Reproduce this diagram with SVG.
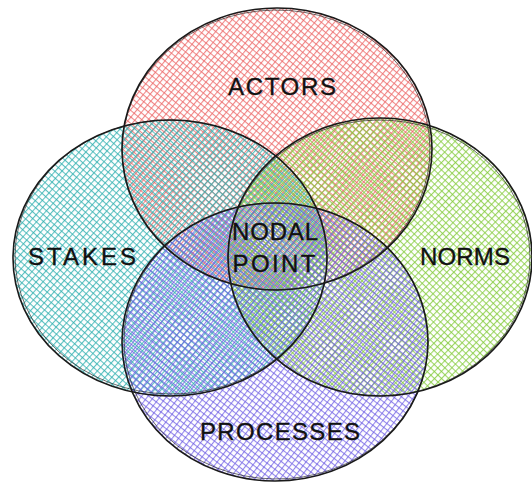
<svg xmlns="http://www.w3.org/2000/svg" width="532" height="486" viewBox="0 0 532 486">
  <style>
    .outline { fill: none; stroke: #1a1a1a; stroke-width: 1.6; stroke-linecap: round; }
    .outline2 { fill: none; stroke: #1a1a1a; stroke-width: 0.9; opacity: 0.7; }
    .label { font-family: "Liberation Sans", "DejaVu Sans", sans-serif; font-size: 24px; fill: #111; stroke: #111; stroke-width: 0.35; text-anchor: middle; }
  </style>
  <defs>
    <!-- cross-hatch fills, one per set -->
    <pattern id="hatch-red" patternUnits="userSpaceOnUse" width="5" height="5" patternTransform="rotate(40)">
      <line x1="0" y1="0" x2="5" y2="0" stroke="#ec6a6a" stroke-width="2.2" stroke-opacity="0.8"/>
      <line x1="0" y1="0" x2="0" y2="5" stroke="#ec6a6a" stroke-width="2.2" stroke-opacity="0.8"/>
    </pattern>
    <pattern id="hatch-teal" patternUnits="userSpaceOnUse" width="5" height="5" patternTransform="rotate(42)">
      <line x1="0" y1="0" x2="5" y2="0" stroke="#34b2b2" stroke-width="2.2" stroke-opacity="0.8"/>
      <line x1="0" y1="0" x2="0" y2="5" stroke="#34b2b2" stroke-width="2.2" stroke-opacity="0.8"/>
    </pattern>
    <pattern id="hatch-green" patternUnits="userSpaceOnUse" width="5" height="5" patternTransform="rotate(44)">
      <line x1="0" y1="0" x2="5" y2="0" stroke="#86cc40" stroke-width="2.2" stroke-opacity="0.8"/>
      <line x1="0" y1="0" x2="0" y2="5" stroke="#86cc40" stroke-width="2.2" stroke-opacity="0.8"/>
    </pattern>
    <pattern id="hatch-purple" patternUnits="userSpaceOnUse" width="5" height="5" patternTransform="rotate(38)">
      <line x1="0" y1="0" x2="5" y2="0" stroke="#6f5fe4" stroke-width="2.2" stroke-opacity="0.75"/>
      <line x1="0" y1="0" x2="0" y2="5" stroke="#6f5fe4" stroke-width="2.2" stroke-opacity="0.75"/>
    </pattern>
  </defs>

  <rect width="532" height="486" fill="#ffffff"/>

  <!-- set fills -->
  <g id="fills">
    <ellipse cx="277" cy="149" rx="155" ry="141" fill="url(#hatch-red)"/>
    <ellipse cx="170" cy="258" rx="157" ry="138" fill="url(#hatch-teal)"/>
    <ellipse cx="380" cy="257" rx="152" ry="139" fill="url(#hatch-green)"/>
    <ellipse cx="275" cy="342" rx="153" ry="139" fill="url(#hatch-purple)"/>
  </g>

  <g id="actors">
    <ellipse class="outline" cx="277" cy="149" rx="155" ry="141"/>
    <ellipse class="outline2" cx="276" cy="150" rx="154" ry="140" transform="rotate(-1 276 150)"/>
    <text class="label" x="282" y="95" textLength="108" lengthAdjust="spacing">ACTORS</text>
  </g>

  <g id="stakes">
    <ellipse class="outline" cx="170" cy="258" rx="157" ry="138"/>
    <ellipse class="outline2" cx="171" cy="257" rx="156" ry="137" transform="rotate(1 171 257)"/>
    <text class="label" x="82" y="265" textLength="108" lengthAdjust="spacing">STAKES</text>
  </g>

  <g id="norms">
    <ellipse class="outline" cx="380" cy="257" rx="152" ry="139"/>
    <ellipse class="outline2" cx="379" cy="258" rx="151" ry="138" transform="rotate(-1 379 258)"/>
    <text class="label" x="465" y="265" textLength="90" lengthAdjust="spacing">NORMS</text>
  </g>

  <g id="processes">
    <ellipse class="outline" cx="275" cy="342" rx="153" ry="139"/>
    <ellipse class="outline2" cx="276" cy="341" rx="152" ry="138" transform="rotate(1 276 341)"/>
    <text class="label" x="280" y="440" textLength="160" lengthAdjust="spacing">PROCESSES</text>
  </g>

  <g id="nodal-point">
    <text class="label" x="275" y="240" textLength="86" lengthAdjust="spacing">NODAL</text>
    <text class="label" x="274" y="272" textLength="83" lengthAdjust="spacing">POINT</text>
  </g>

  <g id="connectors"></g>
</svg>
